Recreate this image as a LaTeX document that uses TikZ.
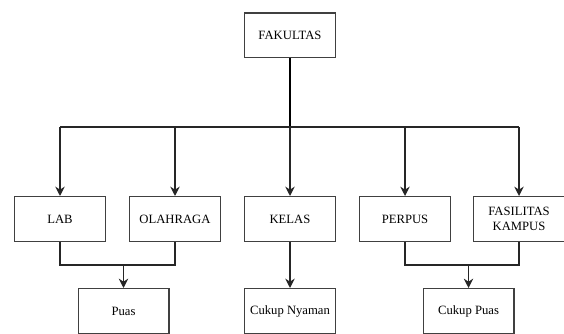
\documentclass[tikz,border=0pt]{standalone}
\usepackage{fontspec}
\setmainfont{Liberation Serif}
\usetikzlibrary{arrows.meta}

\tikzset{
  box/.style={draw=black!75,line width=1pt,minimum width=68pt,minimum height=33.5pt,
    inner sep=1pt,align=center,font=\fontsize{9.5}{11.5}\selectfont},
  conn/.style={draw=black!85,line width=1pt},
  arr/.style={conn,-{Stealth[length=7pt,width=7pt]}}
}

\begin{document}
\begin{tikzpicture}[x=0.75pt,y=-0.75pt]
         \useasboundingbox (0,0) rectangle (564,334);
         % kotak
         \node[box] (fakultas) at (290,35.5) {FAKULTAS};
         \node[box] (lab) at (60,219) {LAB};
         \node[box] (olahraga) at (175,219) {OLAHRAGA};
         \node[box] (kelas) at (290,219) {KELAS};
         \node[box] (perpus) at (405,219) {PERPUS};
         \node[box] (fasilitas) at (519,219) {FASILITAS\\KAMPUS};
         \node[box] (puas) at (123.5,311) {Puas};
         \node[box] (nyaman) at (290,311) {Cukup Nyaman};
         \node[box] (cukuppuas) at (468.5,311) {Cukup Puas};
         % garis
         \coordinate (bar) at (290,127);
         \coordinate (j1) at (123.5,265);
         \coordinate (j2) at (468.5,265);
         \draw[conn,line width=1.4pt,draw=black] (fakultas) -- (bar);
         \draw[conn] (lab |- bar) -- (fasilitas |- bar);
         \foreach \n in {lab,olahraga,kelas,perpus,fasilitas}
            \draw[arr] (\n |- bar) -- (\n.north);
         \draw[conn] (lab.south) |- (j1) -| (olahraga.south);
         \draw[arr] (j1) -- (puas.north);
         \draw[arr] (kelas) -- (nyaman);
         \draw[conn] (perpus.south) |- (j2) -| (fasilitas.south);
         \draw[arr] (j2) -- (cukuppuas.north);
      \end{tikzpicture}
\end{document}
